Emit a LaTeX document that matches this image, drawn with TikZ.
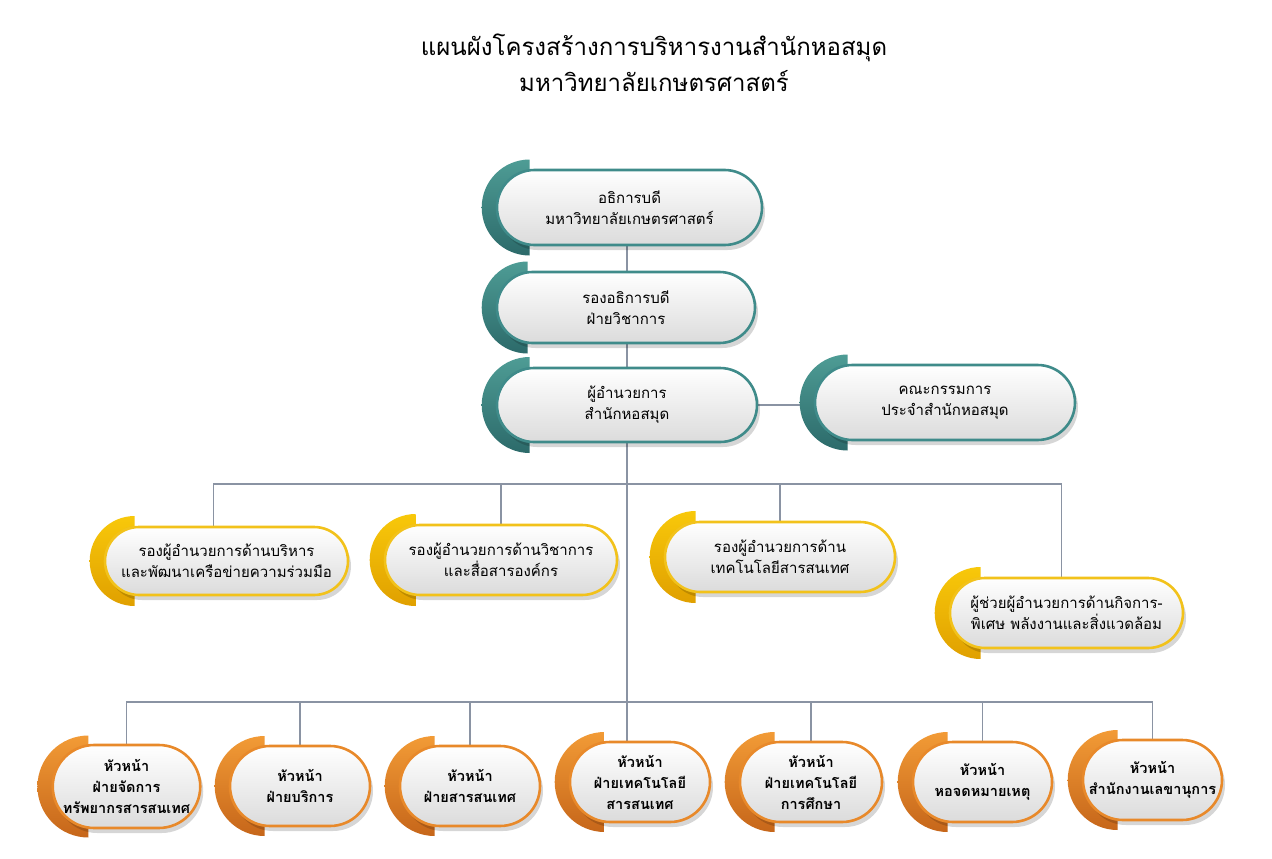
\documentclass[tikz,border=0pt]{standalone}
\usepackage{fontspec}
\newfontfamily\thai[Script=Thai]{Loma}
\usetikzlibrary{shapes.misc,shadows,calc}
\definecolor{tealB}{HTML}{3F8B8A}
\definecolor{tealT}{HTML}{4E9C95}
\definecolor{tealD}{HTML}{2C6A6A}
\definecolor{yelB}{HTML}{F2C21B}
\definecolor{yelT}{HTML}{F8C80A}
\definecolor{yelD}{HTML}{E0A000}
\definecolor{orgB}{HTML}{E8892A}
\definecolor{orgT}{HTML}{F29B36}
\definecolor{orgD}{HTML}{C6661A}
\definecolor{linkC}{HTML}{8A93A3}
\pgfdeclarelayer{paper}
\pgfdeclarelayer{bg}
\pgfdeclarelayer{mid}
\pgfsetlayers{paper,bg,mid,main}
\tikzset{
  pillbase/.style={rounded rectangle, line width=2.6pt, top color=white, bottom color=black!14,
    align=center, inner sep=0pt, text=black,
    font=\thai\fontsize{15}{21}\selectfont,
    drop shadow={shadow xshift=3pt, shadow yshift=-5pt, fill=black, opacity=0.16}},
  tpill/.style={pillbase, draw=tealB},
  ypill/.style={pillbase, draw=yelB},
  opill/.style={pillbase, draw=orgB, font=\thai\bfseries\fontsize{14.5}{21}\selectfont},
  link/.style={draw=linkC, line width=1.6pt},
}
% crescent: node name, radius, top colour, bottom colour
\newcommand\crescentof[4]{%
  \begin{pgfonlayer}{mid}
  \shade[top color=#3, bottom color=#4]
    ($(#1.west)+(#2-14,#2)$) arc[start angle=90, end angle=270, radius=#2] -- cycle;
  \end{pgfonlayer}}
\begin{document}
\begin{tikzpicture}[x=1pt,y=-1pt]
\useasboundingbox (0,0) rectangle (1272,859);
\begin{pgfonlayer}{paper}
\fill[white] (0,0) rectangle (1272,859);
\end{pgfonlayer}

\node[font=\thai\fontsize{24}{36}\selectfont, align=center] (title) at (654,63)
  {แผนผังโครงสร้างการบริหารงานสำนักหอสมุด\\มหาวิทยาลัยเกษตรศาสตร์};

% teal
\node[tpill, minimum width=265, minimum height=75] (A) at (629.5,207.5) {อธิการบดี\\มหาวิทยาลัยเกษตรศาสตร์};
\crescentof{A}{48}{tealT}{tealD}
\node[tpill, minimum width=258, minimum height=71] (B) at (626,307.5) {รองอธิการบดี\\ฝ่ายวิชาการ};
\crescentof{B}{46}{tealT}{tealD}
\node[tpill, minimum width=260, minimum height=74] (C) at (627,405) {ผู้อำนวยการ\\สำนักหอสมุด};
\crescentof{C}{48}{tealT}{tealD}
\node[tpill, minimum width=260, minimum height=75] (D) at (945,402.5) {คณะกรรมการ\\ประจำสำนักหอสมุด};
\crescentof{D}{48}{tealT}{tealD}

% yellow
\node[ypill, minimum width=243, minimum height=68] (Y1) at (226.5,561) {รองผู้อำนวยการด้านบริหาร\\และพัฒนาเครือข่ายความร่วมมือ};
\crescentof{Y1}{45}{yelT}{yelD}
\node[ypill, minimum width=232, minimum height=70] (Y2) at (501,560) {รองผู้อำนวยการด้านวิชาการ\\และสื่อสารองค์กร};
\crescentof{Y2}{46}{yelT}{yelD}
\node[ypill, minimum width=230, minimum height=70] (Y3) at (780,557) {รองผู้อำนวยการด้าน\\เทคโนโลยีสารสนเทศ};
\crescentof{Y3}{46}{yelT}{yelD}
\node[ypill, minimum width=233, minimum height=70] (Y4) at (1066.5,613) {ผู้ช่วยผู้อำนวยการด้านกิจการ-\\พิเศษ พลังงานและสิ่งแวดล้อม};
\crescentof{Y4}{46}{yelT}{yelD}

% orange
\node[opill, minimum width=139, minimum height=83] (O1) at (126.5,786.5) {หัวหน้า\\ฝ่ายจัดการ\\ทรัพยากรสารสนเทศ};
\crescentof{O1}{51}{orgT}{orgD}
\node[opill, minimum width=140, minimum height=80] (O2) at (300,786) {หัวหน้า\\ฝ่ายบริการ};
\crescentof{O2}{50}{orgT}{orgD}
\node[opill, minimum width=140, minimum height=80] (O3) at (470,786) {หัวหน้า\\ฝ่ายสารสนเทศ};
\crescentof{O3}{50}{orgT}{orgD}
\node[opill, minimum width=140, minimum height=80] (O4) at (640,782) {หัวหน้า\\ฝ่ายเทคโนโลยี\\สารสนเทศ};
\crescentof{O4}{50}{orgT}{orgD}
\node[opill, minimum width=142, minimum height=80] (O5) at (811,782) {หัวหน้า\\ฝ่ายเทคโนโลยี\\การศึกษา};
\crescentof{O5}{50}{orgT}{orgD}
\node[opill, minimum width=139, minimum height=80] (O6) at (982.5,782) {หัวหน้า\\หอจดหมายเหตุ};
\crescentof{O6}{50}{orgT}{orgD}
\node[opill, minimum width=139, minimum height=80] (O7) at (1152.5,780) {หัวหน้า\\สำนักงานเลขานุการ};
\crescentof{O7}{50}{orgT}{orgD}

\coordinate (bus1) at (0,484);
\coordinate (bus2) at (0,702);

\begin{pgfonlayer}{bg}
\draw[link] (A.south -| C.north) -- (B.north -| C.north);
\draw[link] (B.south -| C.north) -- (C.north);
\draw[link] (C.east) -- (C.east -| D.west);
\draw[link] (C.south) -- (C.south |- O4.north);
\draw[link] ([xshift=-13pt]Y1.north) -- ([xshift=-13pt]Y1.north |- bus1) -- ([xshift=-5pt]Y4.north |- bus1) -- ([xshift=-5pt]Y4.north);
\draw[link] (Y2.north) -- (Y2.north |- bus1);
\draw[link] (Y3.north) -- (Y3.north |- bus1);
\draw[link] (O1.north) -- (O1.north |- bus2) -- (O7.north |- bus2) -- (O7.north);
\draw[link] (O2.north) -- (O2.north |- bus2);
\draw[link] (O3.north) -- (O3.north |- bus2);
\draw[link] (O5.north) -- (O5.north |- bus2);
\draw[link] (O6.north) -- (O6.north |- bus2);
\end{pgfonlayer}
\end{tikzpicture}
\end{document}
